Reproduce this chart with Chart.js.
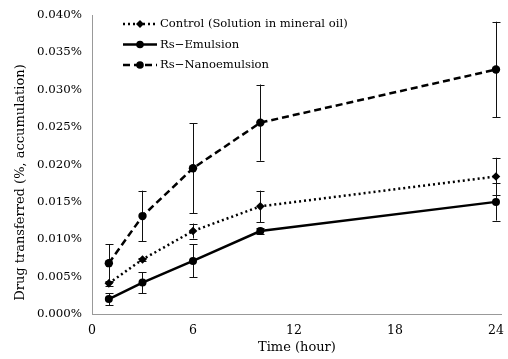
<!DOCTYPE html>
<html>
<head>
<meta charset="utf-8">
<script src="https://cdn.jsdelivr.net/npm/chart.js@4"></script>
<style>
  html, body { margin: 0; padding: 0; background: #fff; }
  #wrap { width: 508px; height: 359px; }
</style>
</head>
<body>
<div id="wrap"><canvas id="chart" width="508" height="359"></canvas></div>
<script>
// data (values are in percent)
const hours = [1, 3, 6, 10, 24];
const xTicks = [0, 6, 12, 18, 24];
const seriesNames = ['Control (Solution in mineral oil)', 'Rs\u2212Emulsion', 'Rs\u2212Nanoemulsion'];
const controlVals = [0.0041, 0.0073, 0.0111, 0.0144, 0.0184];
const controlErr  = [0.0003, 0.0002, 0.0010, 0.0021, 0.0025];
const emulsionVals = [0.0020, 0.0042, 0.0071, 0.0111, 0.0150];
const emulsionErr  = [0.0008, 0.0014, 0.0022, 0.0004, 0.0025];
const nanoVals = [0.0068, 0.0131, 0.0195, 0.0256, 0.0327];
const nanoErr  = [0.0025, 0.0034, 0.0060, 0.0051, 0.0064];
const yTitle = 'Drug transferred (%, accumulation)';

const FONT = "'DejaVu Serif', serif";

function pts(vals) {
    return hours.map((h, i) => ({ x: h, y: vals[i] }));
}

// error bars drawn through the scales
const errorBars = {
    id: 'errorBars',
    beforeDatasetsDraw(chart) {
        const ctx = chart.ctx;
        const xs = chart.scales.x, ys = chart.scales.y;
        chart.data.datasets.forEach(ds => {
            ctx.save();
            ctx.strokeStyle = '#111';
            ctx.lineWidth = 1;
            ds.data.forEach((p, i) => {
                const e = ds.errors[i];
                const px = Math.round(xs.getPixelForValue(p.x)) + 0.5;
                const top = ys.getPixelForValue(p.y + e);
                const bot = ys.getPixelForValue(p.y - e);
                ctx.beginPath();
                ctx.moveTo(px, top); ctx.lineTo(px, bot);
                ctx.moveTo(px - 4, Math.round(top) + 0.5); ctx.lineTo(px + 4, Math.round(top) + 0.5);
                ctx.moveTo(px - 4, Math.round(bot) + 0.5); ctx.lineTo(px + 4, Math.round(bot) + 0.5);
                ctx.stroke();
            });
            ctx.restore();
        });
    }
};

// legend inside the plot + rotated y title
const innerLegend = {
    id: 'innerLegend',
    afterDraw(chart) {
        const ctx = chart.ctx;
        const area = chart.chartArea;
        const left = area.left + 31;
        let y = area.top + 9;
        chart.data.datasets.forEach(ds => {
            ctx.save();
            ctx.strokeStyle = '#000';
            ctx.lineWidth = ds.borderWidth;
            ctx.setLineDash(ds.borderDash || []);
            ctx.beginPath();
            ctx.moveTo(left, y); ctx.lineTo(left + 34, y);
            ctx.stroke();
            ctx.setLineDash([]);
            ctx.fillStyle = '#000';
            if (ds.pointStyle === 'rectRot') {
                ctx.beginPath();
                ctx.moveTo(left + 17, y - 4); ctx.lineTo(left + 21, y);
                ctx.lineTo(left + 17, y + 4); ctx.lineTo(left + 13, y);
                ctx.closePath(); ctx.fill();
            } else {
                ctx.beginPath();
                ctx.arc(left + 17, y, 3.8, 0, Math.PI * 2);
                ctx.fill();
            }
            ctx.font = '11.6px ' + FONT;
            ctx.textBaseline = 'middle';
            ctx.fillText(ds.label, left + 37, y);
            ctx.restore();
            y += 20.5;
        });

        ctx.save();
        ctx.translate(21, (area.top + area.bottom) / 2 + 18);
        ctx.rotate(-Math.PI / 2);
        ctx.font = '13px ' + FONT;
        ctx.fillStyle = '#000';
        ctx.textAlign = 'center';
        ctx.textBaseline = 'middle';
        ctx.fillText(yTitle, 0, 0);
        ctx.restore();
    }
};

new Chart(document.getElementById('chart'), {
    type: 'line',
    data: {
        datasets: [{
            label: seriesNames[0],
            data: pts(controlVals),
            errors: controlErr,
            borderColor: '#000',
            backgroundColor: '#000',
            borderWidth: 2.5,
            borderDash: [2, 3],
            pointStyle: 'rectRot',
            pointRadius: 4.3,
            pointBorderWidth: 0
        }, {
            label: seriesNames[1],
            data: pts(emulsionVals),
            errors: emulsionErr,
            borderColor: '#000',
            backgroundColor: '#000',
            borderWidth: 2.5,
            pointStyle: 'circle',
            pointRadius: 4,
            pointBorderWidth: 0
        }, {
            label: seriesNames[2],
            data: pts(nanoVals),
            errors: nanoErr,
            borderColor: '#000',
            backgroundColor: '#000',
            borderWidth: 2.5,
            borderDash: [7, 4],
            pointStyle: 'circle',
            pointRadius: 4.2,
            pointBorderWidth: 0
        }]
    },
    options: {
        responsive: false,
        animation: false,
        layout: { padding: { top: 15, right: 1, left: 0, bottom: 0 } },
        plugins: { legend: { display: false }, tooltip: { enabled: false } },
        scales: {
            x: {
                type: 'linear',
                min: 0,
                max: 24.35,
                afterBuildTicks(scale) { scale.ticks = xTicks.map(v => ({ value: v })); },
                afterFit(scale) { scale.height = 45; },
                grid: { display: false, drawTicks: true, tickLength: 5, color: '#999' },
                border: { color: '#999', width: 1 },
                ticks: { color: '#000', font: { family: FONT, size: 12.5 }, padding: 4, maxRotation: 0 },
                title: { display: true, text: 'Time (hour)', color: '#000', font: { family: FONT, size: 13 }, padding: { top: 0 } }
            },
            y: {
                min: 0,
                max: 0.04,
                afterFit(scale) { scale.width = 92; },
                grid: { display: false, drawTicks: true, tickLength: 5, color: '#999' },
                border: { color: '#999', width: 1 },
                ticks: {
                    stepSize: 0.005,
                    color: '#000',
                    font: { family: FONT, size: 11.8 },
                    padding: 5,
                    callback: v => v.toFixed(3) + '%'
                }
            }
        }
    },
    plugins: [errorBars, innerLegend]
});
</script>
</body>
</html>
